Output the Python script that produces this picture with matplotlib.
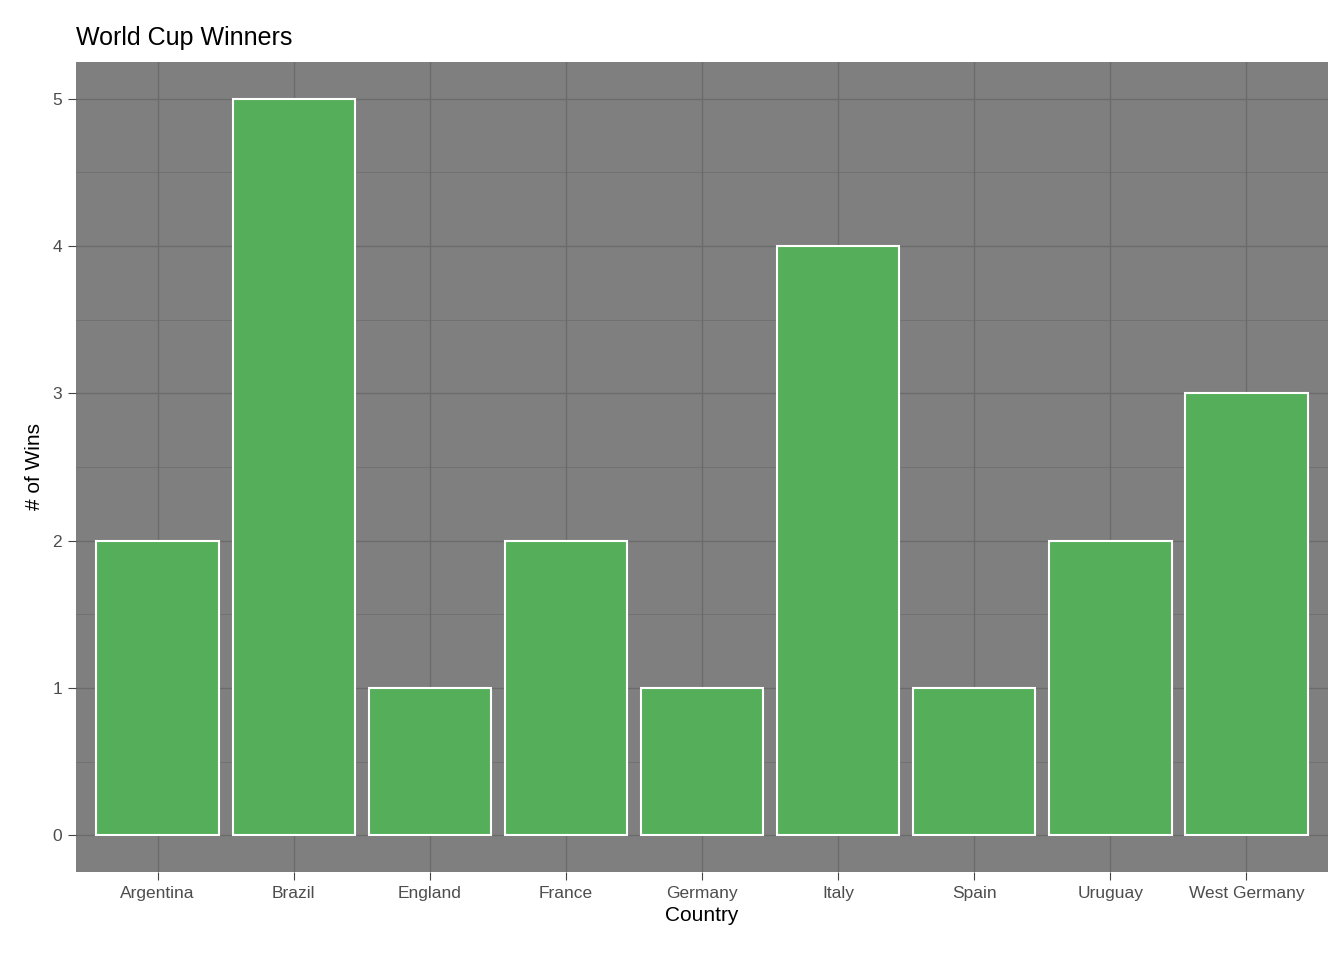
import matplotlib.pyplot as plt
import numpy as np

countries = ["Argentina", "Brazil", "England", "France", "Germany",
             "Italy", "Spain", "Uruguay", "West Germany"]
wins = [2, 5, 1, 2, 1, 4, 1, 2, 3]

plt.rcParams['font.family'] = ['Liberation Sans', 'DejaVu Sans']
fig = plt.figure(figsize=(13.44, 9.6), dpi=100)
ax = fig.add_axes([76/1344, 1 - 872/960, (1328-76)/1344, (872-62)/960])
ax.set_facecolor("#7f7f7f")

x = np.arange(len(countries))
ax.bar(x, wins, width=0.9, color="#55AF5A", edgecolor="white", linewidth=1.5, zorder=3)

ax.set_xlim(-0.6, len(countries) - 0.4)
ax.set_ylim(-0.25, 5.25)
ax.set_xticks(x)
ax.set_xticklabels(countries)
ax.set_yticks(range(6))
ax.set_yticks(np.arange(0.5, 5, 1), minor=True)
ax.grid(which="major", color="#6b6b6b", linewidth=1.0, zorder=0)
ax.grid(which="minor", axis="y", color="#6b6b6b", linewidth=0.5, zorder=0)
for s in ax.spines.values():
    s.set_visible(False)
ax.tick_params(which="major", length=6, color="#444444", labelsize=12.5,
               labelcolor="#4d4d4d", pad=4)
ax.tick_params(which="minor", length=0)

ax.set_xlabel("Country", fontsize=15, labelpad=4)
ax.set_ylabel("# of Wins", fontsize=15, labelpad=6)
ax.set_title("World Cup Winners", fontsize=18, loc="left", pad=12)

fig.savefig("out.png")
